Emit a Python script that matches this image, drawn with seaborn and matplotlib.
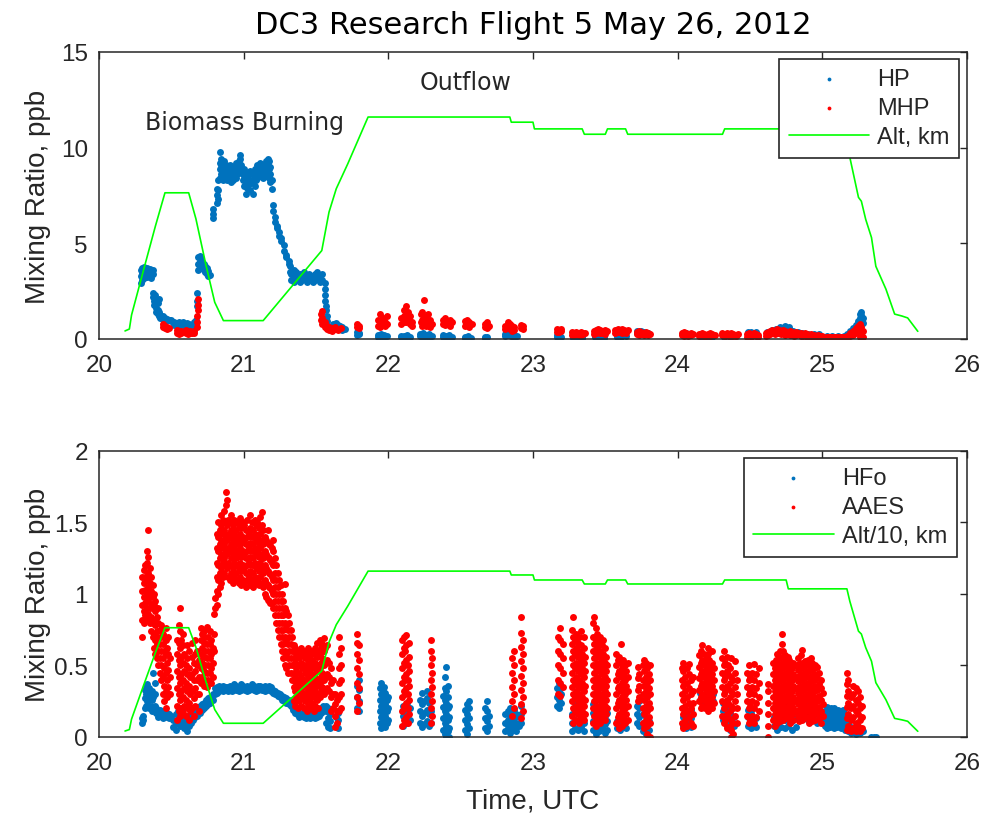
import matplotlib
matplotlib.use('Agg')
import matplotlib.pyplot as plt
import pandas as pd
import seaborn as sns

# altitude track (km), used as-is on top and /10 on the bottom panel
alt_time = [20.18, 20.21, 20.225, 20.31, 20.39, 20.456, 20.62, 20.67, 20.74, 20.80, 20.86,
            21.135, 21.54, 21.59, 21.64, 21.72, 21.86, 22.84, 22.85, 23.00, 23.01, 23.34,
            23.355, 23.50, 23.515, 23.64, 23.655, 24.31, 24.325, 24.75, 24.765, 25.17,
            25.19, 25.25, 25.27, 25.30, 25.34, 25.37, 25.44, 25.50, 25.55, 25.59, 25.66]
alt_km = [0.42, 0.52, 1.25, 3.66, 5.9, 7.64, 7.64, 6.28, 3.84, 1.92, 0.96,
          0.96, 4.62, 6.63, 7.85, 9.16, 11.6, 11.6, 11.33, 11.33, 10.98, 10.98,
          10.7, 10.7, 10.98, 10.98, 10.7, 10.7, 10.98, 10.98, 10.36, 10.36,
          9.5, 7.4, 7.2, 6.25, 5.3, 3.8, 2.6, 1.3, 1.2, 1.1, 0.4]

# HP, ppb: (time, [values at that time])
hp_cols = [
    (20.290, [2.95, 3.3, 3.6]), (20.300, [3.1, 3.45, 3.7]), (20.310, [3.2, 3.5, 3.75]),
    (20.320, [3.3, 3.6]), (20.330, [3.25, 3.55, 3.7]), (20.340, [3.35, 3.6]),
    (20.350, [3.3, 3.65]), (20.360, [3.2, 3.5]), (20.370, [3.4, 3.6]),
    (20.375, [2.4, 2.2]), (20.380, [2.0, 1.8]), (20.385, [2.3, 1.9]), (20.395, [1.6, 1.4]),
    (20.405, [1.5, 1.3, 1.9]), (20.415, [1.2, 1.4, 2.1]), (20.425, [1.25, 1.1]),
    (20.440, [1.2, 1.05]), (20.455, [1.1, 1.0]), (20.470, [1.05, 1.0]), (20.485, [1.0, 0.98]),
    (20.500, [1.0, 0.95]), (20.520, [0.9, 0.75]), (20.535, [0.85, 0.8]), (20.550, [0.9, 0.7]),
    (20.565, [0.85, 0.8]), (20.580, [0.9, 0.75]), (20.595, [0.8, 0.7]), (20.610, [0.85, 0.65]),
    (20.625, [0.8, 0.7]), (20.640, [0.75, 0.65]), (20.655, [0.9, 0.6]), (20.670, [1.0, 0.8]),
    (20.680, [1.7, 2.0, 2.4]), (20.685, [3.6, 3.9, 4.3]), (20.695, [3.8, 4.1, 4.35]),
    (20.705, [3.9, 4.2]), (20.715, [3.7, 4.0]), (20.725, [3.6, 3.9]), (20.735, [3.5, 3.8]),
    (20.745, [3.4, 3.7]), (20.755, [3.3, 3.55]), (20.765, [3.35]),
    (20.790, [6.3, 6.55, 6.8]), (20.815, [7.1, 7.5, 7.85]), (20.825, [7.3, 7.8, 8.3]),
    (20.835, [8.4, 8.9, 9.2, 9.77]), (20.845, [8.6, 9.0, 9.4]), (20.855, [8.3, 8.8, 9.2]),
    (20.865, [8.5, 8.9, 9.3]), (20.875, [8.6, 9.1]), (20.885, [8.3, 8.7, 9.0]),
    (20.895, [8.5, 8.9]), (20.905, [8.4, 8.8, 9.1]), (20.915, [8.2, 8.6]),
    (20.925, [8.3, 8.7, 9.0]), (20.935, [8.5, 8.8]), (20.945, [8.4, 8.9, 9.2]),
    (20.955, [8.6, 9.0]), (20.965, [8.8, 9.3]), (20.975, [8.9, 9.4, 9.6]),
    (20.985, [8.7, 9.1]), (20.995, [8.3, 8.8]), (21.005, [8.0, 8.5, 8.9]),
    (21.015, [7.6, 8.2, 8.7]), (21.025, [7.9, 8.4]), (21.035, [8.1, 8.6]),
    (21.045, [7.8, 8.3, 8.8]), (21.055, [8.2, 8.6]), (21.065, [7.6, 8.3]),
    (21.075, [8.0, 8.5, 8.9]), (21.085, [8.3, 8.7]), (21.095, [8.4, 8.8, 9.1]),
    (21.105, [8.6, 9.0]), (21.115, [8.5, 8.9, 9.2]), (21.125, [8.7, 9.0]),
    (21.135, [8.4, 8.8, 9.1]), (21.145, [8.6, 9.0]), (21.155, [8.5, 8.9, 9.3]),
    (21.165, [8.7, 9.2, 9.4]), (21.175, [8.4, 8.9, 9.3]), (21.185, [8.2, 8.6, 9.0]),
    (21.195, [7.85, 8.3]), (21.200, [7.0, 6.7]), (21.220, [6.4, 6.1]), (21.230, [5.9, 5.8]),
    (21.245, [5.6, 5.4]), (21.260, [5.3, 5.1]), (21.280, [4.9, 4.6]), (21.290, [4.4, 4.3]),
    (21.310, [4.1, 3.9]), (21.320, [3.8, 3.5]),
    (21.330, [3.1, 3.4]), (21.345, [3.0, 3.3, 3.6]), (21.360, [3.2, 3.5]), (21.375, [3.1, 3.3]),
    (21.390, [3.0, 3.2, 3.4]), (21.405, [3.1, 3.3]), (21.420, [3.2, 3.5]), (21.435, [3.0, 3.3]),
    (21.450, [3.1, 3.4]), (21.465, [3.2, 3.3]), (21.480, [3.0, 3.3]), (21.495, [3.1, 3.4]),
    (21.510, [3.2, 3.5]), (21.525, [3.0, 3.3]), (21.540, [3.1, 3.4]),
    (21.560, [2.9, 2.6]), (21.565, [2.3, 2.0]), (21.570, [1.7, 1.5]), (21.575, [1.2, 0.95]),
    (21.620, [0.6, 0.8]), (21.635, [0.55, 0.85]), (21.650, [0.6, 0.75]), (21.665, [0.5, 0.7]),
    (21.680, [0.45, 0.6]), (21.700, [0.5]), (21.785, [0.2, 0.35]), (21.800, [0.25, 0.3]),
    (21.930, [0.1, 0.2]), (21.950, [0.15, 0.25]), (21.970, [0.1, 0.2]), (21.990, [0.15]),
    (22.090, [0.1, 0.15]), (22.110, [0.05, 0.15]), (22.130, [0.1, 0.2]), (22.150, [0.1]),
    (22.220, [0.15, 0.25]), (22.240, [0.1, 0.3]), (22.260, [0.15, 0.2]), (22.280, [0.1, 0.25]),
    (22.300, [0.15]), (22.380, [0.1, 0.2]), (22.400, [0.08, 0.15]), (22.420, [0.12, 0.2]),
    (22.440, [0.1]), (22.530, [0.05, 0.12]), (22.550, [0.08, 0.15]), (22.570, [0.06]),
    (22.665, [0.05, 0.1]), (22.685, [0.08]), (22.810, [0.15, 0.25]), (22.830, [0.2, 0.3]),
    (22.850, [0.15, 0.25]), (22.870, [0.1, 0.2]), (22.890, [0.15]),
    (23.165, [0.1, 0.2]), (23.180, [0.15, 0.26]), (23.195, [0.1]),
    (23.280, [0.05, 0.12]), (23.310, [0.08, 0.15]), (23.340, [0.06, 0.12]),
    (23.430, [0.08, 0.15]), (23.460, [0.1, 0.18]), (23.490, [0.06, 0.14]),
    (23.580, [0.12, 0.2]), (23.610, [0.1, 0.22]), (23.640, [0.14]),
    (23.720, [0.3, 0.4]), (23.745, [0.35, 0.42]), (23.770, [0.28, 0.38]), (23.795, [0.3]),
    (24.035, [0.25, 0.32]), (24.060, [0.2, 0.3]), (24.085, [0.25]),
    (24.160, [0.12, 0.18]), (24.200, [0.1, 0.16]), (24.240, [0.12]),
    (24.320, [0.12, 0.18]), (24.360, [0.1, 0.16]), (24.400, [0.14]),
    (24.485, [0.3, 0.38]), (24.510, [0.28, 0.35]), (24.540, [0.3, 0.36]),
    (24.620, [0.3, 0.38]), (24.650, [0.35, 0.45]), (24.680, [0.4, 0.5]), (24.710, [0.5, 0.62]),
    (24.740, [0.55, 0.68]), (24.770, [0.5, 0.6]), (24.800, [0.35, 0.42]), (24.830, [0.3, 0.36]),
    (24.860, [0.25, 0.3]), (24.900, [0.22, 0.28]), (24.940, [0.2, 0.26]), (24.980, [0.18, 0.24]),
    (25.030, [0.12, 0.18]), (25.070, [0.1, 0.16]), (25.110, [0.12, 0.18]), (25.150, [0.1, 0.15]),
    (25.170, [0.2, 0.28]), (25.190, [0.3, 0.4]), (25.210, [0.45, 0.55]), (25.230, [0.6, 0.75]),
    (25.245, [0.8, 0.95]), (25.260, [0.9, 1.1, 1.3]), (25.270, [1.0, 1.25, 1.4]), (25.280, [0.85, 1.1]),
]

# MHP, ppb
mhp_cols = [
    (20.440, [0.8, 0.6]), (20.455, [0.55, 0.7]), (20.470, [0.6, 0.5]), (20.485, [0.55]),
    (20.540, [0.45, 0.3]), (20.555, [0.35, 0.25]), (20.570, [0.4, 0.3]), (20.585, [0.35]),
    (20.600, [0.3, 0.45]), (20.615, [0.35, 0.25]), (20.630, [0.3, 0.4]), (20.645, [0.35, 0.3]),
    (20.660, [0.4, 0.3]), (20.675, [0.6, 0.9, 1.2]), (20.685, [1.5, 1.8, 2.1]),
    (21.535, [1.3, 1.0]), (21.545, [1.47, 1.1, 0.8]), (21.560, [0.9, 0.65]), (21.575, [0.7, 0.5]),
    (21.590, [0.45, 0.6]), (21.610, [0.4, 0.55]), (21.630, [0.5, 0.6]), (21.650, [0.45]),
    (21.670, [0.55]), (21.785, [0.8, 0.6]), (21.800, [0.7, 0.55]),
    (21.930, [1.0, 0.7]), (21.945, [1.3, 0.9, 0.6]), (21.960, [1.1, 0.8]), (21.975, [0.9, 0.7]),
    (21.990, [1.2, 0.8]), (22.090, [1.1, 0.8]), (22.105, [1.5, 1.2, 0.9]), (22.120, [1.7, 1.3, 0.9]),
    (22.135, [1.4, 1.0]), (22.150, [1.2, 0.8]), (22.165, [0.9, 0.7]),
    (22.225, [1.3, 0.9]), (22.235, [1.4, 1.0, 0.7]), (22.245, [2.05, 1.2, 0.8]), (22.260, [1.1, 0.7]),
    (22.275, [1.3, 0.9]), (22.290, [1.0, 0.6]), (22.300, [0.8]),
    (22.380, [1.0, 0.8]), (22.395, [1.1, 0.75]), (22.410, [0.95, 0.8]), (22.425, [1.0, 0.7]),
    (22.440, [0.9]), (22.530, [0.95, 0.7]), (22.545, [1.0, 0.75]), (22.560, [0.9, 0.6]),
    (22.575, [0.8]), (22.665, [0.8, 0.6]), (22.680, [0.87, 0.55]), (22.695, [0.7]),
    (22.810, [0.7, 0.5]), (22.825, [0.9, 0.6]), (22.840, [0.8, 0.5]), (22.855, [0.7, 0.4]),
    (22.870, [0.6, 0.45]), (22.915, [0.75, 0.55]), (22.930, [0.7, 0.5]),
    (23.165, [0.5, 0.35]), (23.180, [0.45, 0.35]), (23.195, [0.5, 0.4]),
    (23.270, [0.35, 0.2]), (23.285, [0.3, 0.2]), (23.300, [0.35, 0.25]), (23.315, [0.3, 0.2]),
    (23.330, [0.35, 0.2]), (23.345, [0.3, 0.25]), (23.360, [0.3]),
    (23.420, [0.4, 0.25]), (23.435, [0.45, 0.3]), (23.450, [0.5, 0.35]), (23.465, [0.45, 0.3]),
    (23.480, [0.4, 0.3]), (23.495, [0.45, 0.25]), (23.510, [0.4]),
    (23.570, [0.45, 0.3]), (23.585, [0.5, 0.35]), (23.600, [0.45, 0.35]), (23.615, [0.5, 0.3]),
    (23.630, [0.45, 0.35]), (23.645, [0.4, 0.3]), (23.660, [0.45]),
    (23.720, [0.35, 0.25]), (23.735, [0.4, 0.2]), (23.750, [0.35, 0.25]), (23.765, [0.3, 0.2]),
    (23.780, [0.35, 0.25]), (23.795, [0.3, 0.2]), (23.810, [0.25]),
    (24.030, [0.3, 0.2]), (24.045, [0.35, 0.15]), (24.060, [0.3, 0.2]), (24.075, [0.25, 0.15]),
    (24.090, [0.3, 0.2]), (24.105, [0.25]),
    (24.150, [0.25, 0.15]), (24.165, [0.3, 0.2]), (24.180, [0.25, 0.15]), (24.195, [0.2, 0.15]),
    (24.210, [0.25, 0.2]), (24.225, [0.3, 0.15]), (24.240, [0.25, 0.2]), (24.255, [0.2]),
    (24.310, [0.3, 0.2]), (24.325, [0.25, 0.15]), (24.340, [0.3, 0.2]), (24.355, [0.25, 0.15]),
    (24.370, [0.3, 0.2]), (24.385, [0.25, 0.15]), (24.400, [0.2, 0.15]), (24.415, [0.25]),
    (24.480, [0.25, 0.1]), (24.495, [0.3, 0.15]), (24.510, [0.25, 0.1]), (24.525, [0.3, 0.2]),
    (24.540, [0.25, 0.15]), (24.555, [0.2, 0.1]),
    (24.610, [0.3, 0.15]), (24.625, [0.35, 0.2]), (24.640, [0.4, 0.25]), (24.655, [0.45, 0.3]),
    (24.670, [0.4, 0.25]), (24.685, [0.5, 0.3]), (24.700, [0.45, 0.3]), (24.715, [0.4, 0.25]),
    (24.730, [0.45, 0.3]), (24.745, [0.4, 0.2]), (24.760, [0.35, 0.25]), (24.775, [0.4, 0.2]),
    (24.790, [0.35, 0.2]), (24.805, [0.3, 0.15]), (24.820, [0.35, 0.2]), (24.835, [0.3]),
    (24.850, [0.3, 0.15]), (24.865, [0.25, 0.15]), (24.880, [0.3, 0.2]), (24.895, [0.25, 0.1]),
    (24.910, [0.2, 0.15]), (24.925, [0.25, 0.1]), (24.940, [0.2, 0.1]), (24.955, [0.15, 0.1]),
    (24.970, [0.2, 0.1]), (24.985, [0.15]), (25.000, [0.1, 0.15]),
    (25.030, [0.1, 0.08]), (25.050, [0.12, 0.08]), (25.070, [0.1]), (25.090, [0.12, 0.08]),
    (25.110, [0.1]), (25.130, [0.12, 0.08]), (25.150, [0.1]), (25.170, [0.15, 0.1]),
    (25.190, [0.3, 0.15]), (25.210, [0.4, 0.2]), (25.230, [0.55, 0.3]), (25.245, [0.7, 0.4]),
    (25.260, [0.8, 0.5, 0.1]), (25.270, [0.6, 0.3, 0.05]), (25.280, [0.4, 0.1]),
]

# HFo, ppb
hfo_cols = [
    (20.295, [0.10, 0.13]), (20.305, [0.12, 0.15]), (20.315, [0.2, 0.27, 0.33]),
    (20.325, [0.22, 0.3, 0.36]), (20.335, [0.25, 0.31, 0.37]), (20.345, [0.2, 0.28, 0.34]),
    (20.355, [0.22, 0.3]), (20.365, [0.18, 0.26, 0.32]), (20.375, [0.2, 0.28, 0.45]),
    (20.385, [0.22, 0.3, 0.38]), (20.395, [0.17, 0.2]), (20.410, [0.14, 0.18]),
    (20.425, [0.15, 0.19]), (20.440, [0.13, 0.17]), (20.455, [0.14, 0.18]), (20.470, [0.15, 0.17]),
    (20.485, [0.13, 0.16]), (20.500, [0.15]), (20.515, [0.07, 0.12]), (20.530, [0.1, 0.16, 0.05]),
    (20.545, [0.12, 0.18]), (20.560, [0.08, 0.14]), (20.575, [0.1, 0.16, 0.2]), (20.590, [0.06, 0.12]),
    (20.605, [0.04, 0.1, 0.15]), (20.620, [0.08, 0.13]), (20.635, [0.1, 0.16]), (20.650, [0.12, 0.18]),
    (20.665, [0.14, 0.18]), (20.680, [0.15, 0.2]), (20.695, [0.17, 0.22]), (20.710, [0.19, 0.23]),
    (20.725, [0.2, 0.24]), (20.740, [0.22, 0.26]), (20.755, [0.23, 0.27]), (20.770, [0.24, 0.28]),
    (20.785, [0.26, 0.3]), (20.800, [0.3, 0.34]), (20.815, [0.31, 0.35]), (20.830, [0.32, 0.36]),
    (20.845, [0.33, 0.35]), (20.860, [0.32, 0.36]), (20.875, [0.33, 0.35]), (20.890, [0.32, 0.35]),
    (20.905, [0.33, 0.36]), (20.920, [0.32, 0.35]), (20.935, [0.34, 0.37]), (20.950, [0.33, 0.36]),
    (20.965, [0.32, 0.35]), (20.980, [0.33, 0.37]), (20.995, [0.34, 0.36]), (21.010, [0.33, 0.35]),
    (21.025, [0.32, 0.36]), (21.040, [0.33, 0.35]), (21.055, [0.34, 0.37]), (21.070, [0.33, 0.36]),
    (21.085, [0.32, 0.35]), (21.100, [0.33, 0.36]), (21.115, [0.34, 0.36]), (21.130, [0.33, 0.35]),
    (21.145, [0.32, 0.36]), (21.160, [0.33, 0.35]), (21.175, [0.34, 0.36]), (21.190, [0.32, 0.35]),
    (21.205, [0.31, 0.33]), (21.220, [0.3, 0.32]), (21.235, [0.29, 0.31]), (21.250, [0.28, 0.3]),
    (21.265, [0.26, 0.29]), (21.280, [0.25, 0.28]), (21.295, [0.24, 0.27]), (21.310, [0.23, 0.26]),
    (21.325, [0.22, 0.25]), (21.340, [0.19, 0.22]), (21.355, [0.17, 0.2]), (21.370, [0.16, 0.18]),
    (21.385, [0.14, 0.17]), (21.400, [0.15, 0.17]), (21.415, [0.14, 0.16]), (21.430, [0.13, 0.16]),
    (21.445, [0.14, 0.17]), (21.460, [0.13, 0.15]), (21.475, [0.14, 0.16]), (21.490, [0.13, 0.16]),
    (21.505, [0.14, 0.17]), (21.520, [0.15, 0.18]), (21.535, [0.17, 0.2]), (21.550, [0.18, 0.22]),
    (21.570, [0.1, 0.18, 0.22]), (21.585, [0.07, 0.13, 0.2]), (21.600, [0.06, 0.11, 0.16]),
    (21.640, [0.08, 0.14]), (21.655, [0.06, 0.12, 0.17]),
    (21.785, [0.2, 0.28, 0.36]), (21.800, [0.18, 0.25, 0.33, 0.4]),
    (21.940, [0.10, 0.18, 0.26, 0.34]), (21.950, [0.06, 0.14, 0.22, 0.30, 0.38]),
    (21.960, [0.08, 0.16, 0.24, 0.32]), (21.970, [0.12, 0.20, 0.28, 0.35]),
    (21.980, [0.07, 0.15, 0.23, 0.31]), (21.990, [0.10, 0.18, 0.26]), (22.000, [0.12, 0.20, 0.28]),
    (22.100, [0.08, 0.15, 0.22]), (22.130, [0.1, 0.17, 0.24]), (22.150, [0.12, 0.2]),
    (22.220, [0.10, 0.18, 0.26]), (22.235, [0.07, 0.15, 0.23, 0.31]), (22.250, [0.09, 0.17, 0.25]),
    (22.265, [0.11, 0.19, 0.27, 0.32]), (22.280, [0.08, 0.16, 0.24]), (22.295, [0.10, 0.18]),
    (22.380, [0.05, 0.13, 0.21, 0.29]), (22.390, [0.02, 0.10, 0.18, 0.26, 0.34, 0.42]),
    (22.400, [0.0, 0.08, 0.16, 0.24, 0.32, 0.49]), (22.410, [0.04, 0.12, 0.20, 0.28, 0.36]),
    (22.420, [0.0, 0.06, 0.14, 0.22]),
    (22.530, [0.05, 0.12, 0.19]), (22.545, [0.02, 0.09, 0.16, 0.23]), (22.560, [0.06, 0.13, 0.20, 0.25]),
    (22.665, [0.06, 0.13, 0.20]), (22.680, [0.04, 0.11, 0.18, 0.25]), (22.695, [0.08, 0.15]),
    (22.810, [0.04, 0.10, 0.16]), (22.825, [0.06, 0.12, 0.18]), (22.840, [0.03, 0.09, 0.15, 0.20]),
    (22.855, [0.05, 0.11, 0.17]), (22.870, [0.07, 0.13, 0.19]), (22.885, [0.04, 0.10, 0.16]),
    (22.900, [0.08, 0.14]), (22.915, [0.10, 0.16, 0.22]),
    (23.165, [0.22, 0.28, 0.34]), (23.180, [0.20, 0.26, 0.32, 0.38]), (23.195, [0.24, 0.30, 0.36]),
    (23.270, [0.04, 0.10, 0.16]), (23.290, [0.06, 0.12, 0.18, 0.24]), (23.310, [0.05, 0.11, 0.17]),
    (23.330, [0.07, 0.13, 0.19]), (23.350, [0.04, 0.10, 0.16]),
    (23.415, [0.05, 0.11, 0.17, 0.23]), (23.435, [0.02, 0.08, 0.14, 0.20, 0.26]),
    (23.455, [0.04, 0.10, 0.16, 0.30]), (23.475, [0.06, 0.12, 0.18, 0.24]),
    (23.495, [0.03, 0.09, 0.15]), (23.515, [0.05, 0.11, 0.17]),
    (23.580, [0.06, 0.11]), (23.600, [0.05, 0.10, 0.15]), (23.620, [0.07, 0.12]), (23.640, [0.06, 0.11]),
    (23.720, [0.10, 0.16, 0.22]), (23.735, [0.08, 0.14, 0.20, 0.25]), (23.760, [0.04, 0.10, 0.16]),
    (23.780, [0.02, 0.08, 0.14]), (23.800, [0.05, 0.11]),
    (24.035, [0.08, 0.14, 0.20]), (24.055, [0.06, 0.12, 0.18]), (24.075, [0.09, 0.15]),
    (24.095, [0.07, 0.13, 0.19]),
    (24.155, [0.26, 0.31]), (24.185, [0.24, 0.29]), (24.215, [0.27, 0.32]), (24.245, [0.25, 0.30]),
    (24.315, [0.12, 0.18, 0.24]), (24.340, [0.08, 0.14, 0.20]), (24.365, [0.05, 0.11, 0.17]),
    (24.390, [0.08, 0.14]),
    (24.485, [0.08, 0.14, 0.19]), (24.510, [0.06, 0.12, 0.17]), (24.540, [0.07, 0.13]),
    (24.665, [0.08, 0.14, 0.20]), (24.690, [0.05, 0.11, 0.17]), (24.715, [0.07, 0.13, 0.19]),
    (24.740, [0.06, 0.12, 0.18, 0.22]), (24.765, [0.08, 0.14]), (24.790, [0.05, 0.11, 0.17]),
    (24.815, [0.07, 0.13]),
    (24.840, [0.12, 0.18]), (24.870, [0.14, 0.20]), (24.900, [0.12, 0.18, 0.22]),
    (24.930, [0.13, 0.19]), (24.960, [0.10, 0.16]), (24.990, [0.12, 0.18]),
    (25.020, [0.08, 0.13, 0.18]), (25.030, [0.06, 0.11, 0.16, 0.21]), (25.040, [0.09, 0.14, 0.19]),
    (25.050, [0.07, 0.12, 0.17]), (25.060, [0.10, 0.15, 0.20]), (25.070, [0.08, 0.13, 0.18]),
    (25.080, [0.06, 0.11, 0.16, 0.20]), (25.090, [0.09, 0.14, 0.19]), (25.100, [0.07, 0.12, 0.17]),
    (25.110, [0.10, 0.15, 0.19]), (25.120, [0.08, 0.13, 0.18]), (25.130, [0.06, 0.11, 0.16]),
    (25.140, [0.09, 0.14, 0.19]), (25.150, [0.07, 0.12, 0.17]), (25.160, [0.05, 0.10, 0.15]),
    (25.175, [0.04, 0.09]), (25.200, [0.03, 0.07]), (25.230, [0.02, 0.05]), (25.260, [0.03, 0.06]),
    (25.280, [0.04]), (25.340, [0.0]), (25.355, [0.0]), (25.370, [0.0]),
]

# AAES, ppb
aaes_cols = [
    (20.300, [0.70, 0.82, 0.92, 1.02, 1.12]), (20.310, [0.80, 0.88, 0.98, 1.08, 1.17]),
    (20.320, [0.85, 0.94, 1.03, 1.12, 1.20]), (20.330, [0.82, 0.90, 1.00, 1.10, 1.22, 1.30]),
    (20.340, [0.86, 0.96, 1.05, 1.15, 1.26, 1.45]), (20.350, [0.80, 0.90, 0.99, 1.08, 1.18]),
    (20.360, [0.74, 0.84, 0.93, 1.02, 1.12]), (20.370, [0.70, 0.80, 0.90, 0.98, 1.06]),
    (20.380, [0.62, 0.72, 0.82, 0.92, 1.00]), (20.390, [0.58, 0.68, 0.78, 0.88, 0.95]),
    (20.400, [0.55, 0.65, 0.74, 0.84]), (20.410, [0.50, 0.60, 0.70, 0.80, 0.90]),
    (20.420, [0.45, 0.55, 0.65, 0.75]), (20.430, [0.40, 0.50, 0.60, 0.70, 0.78]),
    (20.440, [0.30, 0.42, 0.55, 0.65, 0.72]), (20.450, [0.25, 0.36, 0.48, 0.60, 0.70]),
    (20.460, [0.20, 0.32, 0.45, 0.58, 0.68, 0.76]), (20.470, [0.28, 0.40, 0.52, 0.62]),
    (20.480, [0.35, 0.47, 0.58, 0.70]), (20.490, [0.30, 0.42, 0.55]),
    (20.540, [0.12, 0.22, 0.34, 0.46, 0.58, 0.68]), (20.550, [0.18, 0.30, 0.42, 0.54, 0.66, 0.78]),
    (20.560, [0.15, 0.26, 0.38, 0.50, 0.62, 0.74, 0.90]), (20.570, [0.20, 0.32, 0.44, 0.56, 0.68]),
    (20.580, [0.17, 0.28, 0.40, 0.52, 0.64, 0.72]), (20.590, [0.22, 0.34, 0.46, 0.58]),
    (20.600, [0.15, 0.26, 0.38, 0.50]), (20.610, [0.20, 0.32, 0.44, 0.55, 0.64]),
    (20.620, [0.12, 0.24, 0.36, 0.48, 0.60]), (20.630, [0.18, 0.30, 0.42]),
    (20.645, [0.20, 0.32, 0.44, 0.56, 0.66]), (20.655, [0.15, 0.27, 0.40, 0.52]),
    (20.665, [0.22, 0.34, 0.46, 0.58, 0.68]), (20.680, [0.30, 0.40, 0.50, 0.60]),
    (20.690, [0.18, 0.30, 0.42, 0.54]),
    (20.705, [0.38, 0.48, 0.58, 0.68, 0.76]), (20.715, [0.42, 0.52, 0.62, 0.72]),
    (20.725, [0.36, 0.46, 0.56, 0.66, 0.74]), (20.735, [0.40, 0.50, 0.60, 0.70]),
    (20.745, [0.35, 0.45, 0.55, 0.65, 0.77]), (20.755, [0.40, 0.50, 0.60, 0.70]),
    (20.765, [0.45, 0.55, 0.65, 0.74]), (20.775, [0.38, 0.48, 0.58, 0.68]),
    (20.785, [0.42, 0.52, 0.62]), (20.795, [0.60, 0.72, 0.86]), (20.805, [0.90, 0.97]),
    (20.815, [0.92, 1.02, 1.12, 1.22, 1.32, 1.42]), (20.825, [1.00, 1.10, 1.20, 1.30, 1.40, 1.50]),
    (20.835, [1.05, 1.15, 1.25, 1.35, 1.45]), (20.845, [1.08, 1.18, 1.28, 1.38, 1.48, 1.55]),
    (20.855, [1.12, 1.22, 1.32, 1.42, 1.52]), (20.865, [1.15, 1.25, 1.35, 1.45, 1.58]),
    (20.875, [1.20, 1.30, 1.40, 1.50, 1.62, 1.71]), (20.885, [1.18, 1.28, 1.38, 1.48, 1.66]),
    (20.895, [1.12, 1.22, 1.32, 1.42, 1.52]), (20.905, [1.10, 1.20, 1.30, 1.40, 1.50]),
    (20.915, [1.15, 1.25, 1.35, 1.45, 1.55]), (20.925, [1.08, 1.18, 1.28, 1.38, 1.48]),
    (20.935, [1.12, 1.22, 1.32, 1.42, 1.52]), (20.945, [1.15, 1.25, 1.35, 1.45]),
    (20.955, [1.10, 1.20, 1.30, 1.40, 1.50]), (20.965, [1.08, 1.18, 1.28, 1.38, 1.48]),
    (20.975, [1.12, 1.22, 1.32, 1.42, 1.53]), (20.985, [1.06, 1.16, 1.26, 1.36, 1.46]),
    (20.995, [1.10, 1.20, 1.30, 1.40, 1.50]), (21.005, [1.08, 1.18, 1.28, 1.38, 1.48]),
    (21.015, [1.05, 1.15, 1.25, 1.35, 1.45]), (21.025, [1.10, 1.20, 1.30, 1.40, 1.52]),
    (21.035, [1.12, 1.22, 1.32, 1.42]), (21.045, [1.06, 1.16, 1.26, 1.36, 1.46, 1.55]),
    (21.055, [1.10, 1.20, 1.30, 1.40, 1.50]), (21.065, [1.05, 1.15, 1.25, 1.35, 1.45]),
    (21.075, [1.12, 1.22, 1.32, 1.42, 1.52]), (21.085, [1.08, 1.18, 1.28, 1.38, 1.48]),
    (21.095, [1.10, 1.20, 1.30, 1.40, 1.50]), (21.105, [1.06, 1.16, 1.26, 1.36, 1.46]),
    (21.115, [1.12, 1.22, 1.32, 1.42, 1.54]), (21.125, [1.08, 1.18, 1.28, 1.38, 1.48, 1.57]),
    (21.135, [1.05, 1.15, 1.25, 1.35, 1.45]), (21.145, [1.00, 1.10, 1.20, 1.30, 1.40]),
    (21.155, [0.98, 1.08, 1.18, 1.28, 1.38]), (21.165, [0.96, 1.06, 1.16, 1.26, 1.36, 1.45]),
    (21.175, [0.95, 1.05, 1.15, 1.25, 1.35]), (21.185, [0.94, 1.04, 1.14, 1.24, 1.34]),
    (21.195, [0.94, 1.02, 1.12, 1.22, 1.32]),
    (21.205, [0.90, 1.00, 1.10, 1.20, 1.30, 1.38]), (21.215, [0.85, 0.95, 1.05, 1.15, 1.25]),
    (21.225, [0.80, 0.90, 1.00, 1.10, 1.20]), (21.235, [0.75, 0.85, 0.95, 1.05, 1.15]),
    (21.245, [0.70, 0.80, 0.90, 1.00, 1.10]), (21.255, [0.65, 0.75, 0.85, 0.95, 1.06]),
    (21.265, [0.60, 0.70, 0.80, 0.90, 1.00]), (21.275, [0.55, 0.65, 0.75, 0.85, 0.95]),
    (21.285, [0.50, 0.60, 0.70, 0.80, 0.90, 1.07]), (21.295, [0.48, 0.58, 0.68, 0.78, 0.88]),
    (21.305, [0.45, 0.55, 0.65, 0.75, 0.85]), (21.315, [0.50, 0.60, 0.70, 0.80]),
    (21.325, [0.45, 0.55, 0.65, 0.75]), (21.335, [0.40, 0.50, 0.60, 0.70]),
    (21.345, [0.25, 0.35, 0.45, 0.55, 0.64]), (21.355, [0.22, 0.32, 0.42, 0.52, 0.62]),
    (21.365, [0.28, 0.38, 0.48, 0.58]), (21.375, [0.20, 0.30, 0.40, 0.50, 0.60]),
    (21.385, [0.25, 0.35, 0.45, 0.55]), (21.395, [0.22, 0.32, 0.42, 0.52, 0.62]),
    (21.405, [0.28, 0.38, 0.48, 0.58]), (21.415, [0.20, 0.30, 0.40, 0.50, 0.60]),
    (21.425, [0.25, 0.35, 0.45, 0.55]), (21.435, [0.18, 0.28, 0.38, 0.48, 0.58]),
    (21.445, [0.22, 0.32, 0.42, 0.52, 0.62]), (21.455, [0.26, 0.36, 0.46, 0.56]),
    (21.465, [0.20, 0.30, 0.40, 0.50, 0.60]), (21.475, [0.24, 0.34, 0.44, 0.54]),
    (21.485, [0.18, 0.28, 0.38, 0.48, 0.58]), (21.495, [0.22, 0.32, 0.42, 0.52, 0.62]),
    (21.505, [0.26, 0.36, 0.46, 0.56, 0.66]), (21.515, [0.20, 0.30, 0.40, 0.50, 0.60]),
    (21.525, [0.28, 0.38, 0.48, 0.58, 0.68]), (21.535, [0.32, 0.42, 0.52, 0.62]),
    (21.545, [0.35, 0.45, 0.55, 0.65]), (21.555, [0.30, 0.40, 0.50, 0.60, 0.69]),
    (21.565, [0.32, 0.42, 0.52, 0.62]), (21.575, [0.34, 0.44, 0.54, 0.64]),
    (21.590, [0.32, 0.42, 0.52]), (21.605, [0.18, 0.28, 0.38, 0.48]), (21.615, [0.20, 0.30, 0.40]),
    (21.630, [0.07, 0.15, 0.23, 0.30]), (21.645, [0.10, 0.18, 0.26]),
    (21.660, [0.18, 0.28, 0.38, 0.48, 0.58, 0.70]), (21.670, [0.20, 0.30, 0.40, 0.50, 0.62]),
    (21.785, [0.18, 0.28, 0.38, 0.48, 0.58, 0.66, 0.72]), (21.795, [0.24, 0.34, 0.44, 0.54, 0.64]),
    (22.095, [0.08, 0.18, 0.28, 0.38, 0.48, 0.58, 0.68]), (22.105, [0.12, 0.22, 0.32, 0.42, 0.52, 0.62, 0.70]),
    (22.115, [0.10, 0.20, 0.30, 0.40, 0.50, 0.60]), (22.125, [0.14, 0.24, 0.34, 0.44, 0.54, 0.64, 0.71]),
    (22.135, [0.10, 0.20, 0.30, 0.40, 0.50]), (22.145, [0.16, 0.26, 0.36, 0.46, 0.56, 0.66]),
    (22.295, [0.10, 0.20, 0.30, 0.40, 0.50, 0.60, 0.68]), (22.305, [0.15, 0.25, 0.35, 0.45, 0.55]),
    (22.855, [0.15, 0.25, 0.35, 0.45, 0.55]), (22.870, [0.20, 0.30, 0.40, 0.50, 0.60]),
    (22.915, [0.13, 0.23, 0.33, 0.43, 0.53, 0.63, 0.73, 0.84]), (22.930, [0.18, 0.28, 0.38, 0.48, 0.58, 0.68]),
    (23.175, [0.30, 0.40, 0.50, 0.60, 0.70]), (23.190, [0.29, 0.38, 0.48, 0.58, 0.68, 0.76]),
    (23.205, [0.35, 0.45, 0.55, 0.65]),
    (23.270, [0.15, 0.25, 0.35, 0.45, 0.55, 0.65, 0.75]), (23.280, [0.10, 0.20, 0.30, 0.40, 0.50, 0.60, 0.70, 0.84]),
    (23.290, [0.18, 0.28, 0.38, 0.48, 0.58, 0.68]), (23.300, [0.12, 0.22, 0.32, 0.42, 0.52, 0.62, 0.72]),
    (23.310, [0.16, 0.26, 0.36, 0.46, 0.56, 0.66]), (23.320, [0.10, 0.20, 0.30, 0.40, 0.50, 0.60, 0.70]),
    (23.330, [0.14, 0.24, 0.34, 0.44, 0.54, 0.64, 0.74]), (23.340, [0.18, 0.28, 0.38, 0.48, 0.58]),
    (23.350, [0.12, 0.22, 0.32, 0.42, 0.52, 0.62, 0.70]), (23.360, [0.16, 0.26, 0.36, 0.46, 0.56]),
    (23.415, [0.10, 0.20, 0.30, 0.40, 0.50, 0.60, 0.70, 0.80]), (23.425, [0.15, 0.25, 0.35, 0.45, 0.55, 0.65, 0.84]),
    (23.435, [0.08, 0.18, 0.28, 0.38, 0.48, 0.58, 0.68, 0.76]), (23.445, [0.12, 0.22, 0.32, 0.42, 0.52, 0.62, 0.72]),
    (23.455, [0.16, 0.26, 0.36, 0.46, 0.56, 0.66]), (23.465, [0.10, 0.20, 0.30, 0.40, 0.50, 0.60, 0.70]),
    (23.475, [0.14, 0.24, 0.34, 0.44, 0.54, 0.64]), (23.485, [0.18, 0.28, 0.38, 0.48, 0.58, 0.68]),
    (23.495, [0.12, 0.22, 0.32, 0.42, 0.52, 0.62]), (23.505, [0.16, 0.26, 0.36, 0.46, 0.56]),
    (23.515, [0.20, 0.30, 0.40, 0.50]),
    (23.575, [0.10, 0.20, 0.30, 0.40, 0.50, 0.58]), (23.585, [0.14, 0.24, 0.34, 0.44, 0.54]),
    (23.595, [0.06, 0.16, 0.26, 0.36, 0.46, 0.56]), (23.605, [0.12, 0.22, 0.32, 0.42, 0.52, 0.65]),
    (23.615, [0.08, 0.18, 0.28, 0.38, 0.48]), (23.625, [0.14, 0.24, 0.34, 0.44, 0.54]),
    (23.635, [0.10, 0.20, 0.30, 0.40, 0.50]), (23.645, [0.16, 0.26, 0.36, 0.46]),
    (23.655, [0.12, 0.22, 0.32, 0.42, 0.52]),
    (23.725, [0.25, 0.33, 0.41, 0.49]), (23.735, [0.28, 0.36, 0.44]),
    (23.760, [0.10, 0.20, 0.30, 0.40, 0.50]), (23.770, [0.06, 0.16, 0.26, 0.36, 0.46, 0.54]),
    (23.780, [0.12, 0.22, 0.32, 0.42, 0.52]), (23.790, [0.02, 0.08, 0.18, 0.28, 0.38, 0.48]),
    (23.800, [0.14, 0.24, 0.34, 0.44]), (23.810, [0.0, 0.10, 0.20, 0.30, 0.40, 0.50]),
    (24.030, [0.10, 0.20, 0.30, 0.40, 0.48]), (24.040, [0.06, 0.16, 0.26, 0.36, 0.46, 0.52]),
    (24.050, [0.12, 0.22, 0.32, 0.42]), (24.065, [0.08, 0.18, 0.28, 0.38, 0.48]),
    (24.080, [0.14, 0.24, 0.34, 0.44, 0.51]), (24.095, [0.10, 0.20, 0.30, 0.40]),
    (24.105, [0.08, 0.16, 0.24, 0.32, 0.42]),
    (24.150, [0.25, 0.33, 0.41, 0.49, 0.57]), (24.160, [0.20, 0.28, 0.36, 0.44, 0.52, 0.60]),
    (24.170, [0.22, 0.30, 0.38, 0.46, 0.54, 0.64]), (24.180, [0.26, 0.34, 0.42, 0.50, 0.58]),
    (24.190, [0.20, 0.28, 0.36, 0.44, 0.52]), (24.200, [0.24, 0.32, 0.40, 0.48, 0.56]),
    (24.210, [0.18, 0.26, 0.34, 0.42, 0.50, 0.58, 0.62]), (24.220, [0.22, 0.30, 0.38, 0.46, 0.54]),
    (24.230, [0.26, 0.34, 0.42, 0.50]), (24.240, [0.20, 0.28, 0.36, 0.44, 0.52, 0.60]),
    (24.250, [0.24, 0.32, 0.40, 0.48]),
    (24.310, [0.15, 0.25, 0.35, 0.45, 0.55]), (24.320, [0.10, 0.20, 0.30, 0.40, 0.50, 0.60]),
    (24.330, [0.12, 0.22, 0.32, 0.42, 0.52]), (24.340, [0.06, 0.16, 0.26, 0.36, 0.46, 0.56]),
    (24.350, [0.14, 0.24, 0.34, 0.44, 0.50]), (24.360, [0.08, 0.18, 0.28, 0.38, 0.48]),
    (24.370, [0.0, 0.05, 0.12, 0.22, 0.32, 0.42, 0.55]), (24.380, [0.02, 0.10, 0.20, 0.30, 0.40]),
    (24.395, [0.15, 0.25, 0.35, 0.45, 0.53]), (24.410, [0.10, 0.20, 0.30, 0.40]),
    (24.480, [0.15, 0.25, 0.35, 0.45]), (24.490, [0.10, 0.20, 0.30, 0.40, 0.50]),
    (24.500, [0.12, 0.22, 0.32, 0.42]), (24.515, [0.15, 0.25, 0.35, 0.45]),
    (24.530, [0.10, 0.20, 0.30, 0.40, 0.51]), (24.545, [0.14, 0.24, 0.34, 0.44]),
    (24.560, [0.18, 0.28, 0.38, 0.48]), (24.625, [0.0, 0.08, 0.16, 0.24, 0.32, 0.37]),
    (24.660, [0.12, 0.20, 0.28, 0.36, 0.44, 0.52]), (24.670, [0.08, 0.16, 0.24, 0.32, 0.40, 0.48]),
    (24.680, [0.14, 0.22, 0.30, 0.38, 0.46, 0.54]), (24.690, [0.10, 0.18, 0.26, 0.34, 0.42, 0.50, 0.58]),
    (24.700, [0.15, 0.23, 0.31, 0.39, 0.47, 0.55]), (24.710, [0.11, 0.19, 0.27, 0.35, 0.43, 0.51, 0.60]),
    (24.720, [0.16, 0.24, 0.32, 0.40, 0.48, 0.56, 0.65, 0.72]), (24.730, [0.12, 0.20, 0.28, 0.36, 0.44, 0.52, 0.60]),
    (24.740, [0.17, 0.25, 0.33, 0.41, 0.49, 0.57]), (24.750, [0.13, 0.21, 0.29, 0.37, 0.45, 0.53]),
    (24.760, [0.18, 0.26, 0.34, 0.42, 0.50, 0.56]), (24.770, [0.14, 0.22, 0.30, 0.38, 0.46, 0.54]),
    (24.780, [0.10, 0.18, 0.26, 0.34, 0.42, 0.50]), (24.790, [0.16, 0.24, 0.32, 0.40, 0.48]),
    (24.800, [0.12, 0.20, 0.28, 0.36, 0.44, 0.52]), (24.810, [0.18, 0.26, 0.34, 0.42, 0.50]),
    (24.830, [0.15, 0.23, 0.31, 0.39, 0.47, 0.55]), (24.840, [0.11, 0.19, 0.27, 0.35, 0.43, 0.51]),
    (24.850, [0.16, 0.24, 0.32, 0.40, 0.48, 0.57]), (24.860, [0.12, 0.20, 0.28, 0.36, 0.44, 0.52, 0.61]),
    (24.870, [0.17, 0.25, 0.33, 0.41, 0.49]), (24.880, [0.13, 0.21, 0.29, 0.37, 0.45, 0.53]),
    (24.890, [0.18, 0.26, 0.34, 0.42, 0.50]), (24.900, [0.14, 0.22, 0.30, 0.38, 0.46, 0.54]),
    (24.910, [0.10, 0.18, 0.26, 0.34, 0.42, 0.50]), (24.920, [0.15, 0.23, 0.31, 0.39, 0.47, 0.55]),
    (24.930, [0.11, 0.19, 0.27, 0.35, 0.43, 0.52]), (24.940, [0.16, 0.24, 0.32, 0.40, 0.48]),
    (24.950, [0.12, 0.20, 0.28, 0.36, 0.44, 0.50]), (24.960, [0.17, 0.25, 0.33, 0.41, 0.49]),
    (24.975, [0.13, 0.21, 0.29, 0.37, 0.45]), (24.990, [0.10, 0.18, 0.26, 0.34, 0.40]),
    (25.005, [0.15, 0.23, 0.31]),
    (25.170, [0.05, 0.13, 0.21, 0.29, 0.37, 0.45]), (25.180, [0.08, 0.16, 0.24, 0.32, 0.40]),
    (25.195, [0.04, 0.12, 0.20, 0.28]), (25.215, [0.06, 0.14, 0.22, 0.30, 0.36]),
    (25.230, [0.04, 0.10, 0.18, 0.26, 0.34]), (25.245, [0.08, 0.16, 0.24, 0.32]),
    (25.260, [0.04, 0.12, 0.20, 0.28]), (25.275, [0.06, 0.14, 0.22]),
]

x_ticks = [20, 21, 22, 23, 24, 25, 26]
top_yticks = [0, 5, 10, 15]
bot_yticks = [0, 0.5, 1, 1.5, 2]
bot_ylabels = ['0', '0.5', '1', '1.5', '2']

BLUE = '#0072BD'
RED = '#FF0000'
GREEN = '#00FF00'
DARK = '#262626'


def to_frame(cols):
    rows = [(t, v) for t, vals in cols for v in vals]
    return pd.DataFrame(rows, columns=['time', 'value'])


hp = to_frame(hp_cols)
mhp = to_frame(mhp_cols)
hfo = to_frame(hfo_cols)
aaes = to_frame(aaes_cols)
alt = pd.DataFrame({'time': alt_time, 'km': alt_km})
alt['km10'] = alt['km'] / 10

sns.set_style('white')
plt.rcParams['font.family'] = ['Liberation Sans', 'DejaVu Sans']
plt.rcParams['axes.edgecolor'] = DARK
plt.rcParams['axes.linewidth'] = 1.1

fig = plt.figure(figsize=(9.84, 8.2), dpi=100)
ax1 = fig.add_axes([0.1006, 0.5854, 0.8821, 0.35])
ax2 = fig.add_axes([0.1006, 0.1, 0.8821, 0.3488])

ms = 25
sns.scatterplot(data=hp, x='time', y='value', color=BLUE, s=ms, linewidth=0, ax=ax1, label='HP')
sns.scatterplot(data=mhp, x='time', y='value', color=RED, s=ms, linewidth=0, ax=ax1, label='MHP')
sns.lineplot(data=alt, x='time', y='km', color=GREEN, lw=1.2, ax=ax1, label='Alt, km',
             estimator=None, sort=False)

sns.scatterplot(data=hfo, x='time', y='value', color=BLUE, s=ms, linewidth=0, ax=ax2, label='HFo')
sns.scatterplot(data=aaes, x='time', y='value', color=RED, s=ms, linewidth=0, ax=ax2, label='AAES')
sns.lineplot(data=alt, x='time', y='km10', color=GREEN, lw=1.2, ax=ax2, label='Alt/10, km',
             estimator=None, sort=False)

for ax in (ax1, ax2):
    ax.set_xlim(20, 26)
    ax.set_xticks(x_ticks)
    ax.set_xticklabels([str(t) for t in x_ticks])
    ax.tick_params(direction='in', length=5, width=1, top=True, right=True,
                   colors=DARK, labelsize=17.5)
    ax.tick_params(axis='x', pad=11)
    ax.tick_params(axis='y', pad=8)
    ax.set_xlabel('')
    ax.set_ylabel('Mixing Ratio, ppb', fontsize=20, color=DARK)
    ax.yaxis.set_label_coords(-0.0553, 0.5)
    for sp in ax.spines.values():
        sp.set_visible(True)
        sp.set_color(DARK)

ax1.set_ylim(0, 15)
ax1.set_yticks(top_yticks)
ax1.set_yticklabels([str(v) for v in top_yticks])
ax2.set_ylim(0, 2)
ax2.set_yticks(bot_yticks)
ax2.set_yticklabels(bot_ylabels)

ax2.set_xlabel('Time, UTC', fontsize=20, color=DARK)
ax2.xaxis.set_label_coords(0.5, -0.175)

ax1.set_title('DC3 Research Flight 5 May 26, 2012', fontsize=22, family='DejaVu Sans',
              color='black', pad=14)
ax1.text(20.318, 10.95, 'Biomass Burning', fontsize=17, family='DejaVu Sans', va='baseline')
ax1.text(22.218, 13.05, 'Outflow', fontsize=17, family='DejaVu Sans', va='baseline')

leg_kw = dict(loc='upper right', fontsize=17, fancybox=False, framealpha=1, edgecolor=DARK,
              handlelength=3.4, handletextpad=0.35, borderpad=0.4, labelspacing=0.3,
              borderaxespad=0, markerscale=0.55)
l1 = ax1.legend(bbox_to_anchor=(0.991, 0.976), **leg_kw)
l2 = ax2.legend(bbox_to_anchor=(0.988, 0.976), **leg_kw)
for lg in (l1, l2):
    lg.get_frame().set_linewidth(1.2)

fig.savefig('out.png', dpi=100)
